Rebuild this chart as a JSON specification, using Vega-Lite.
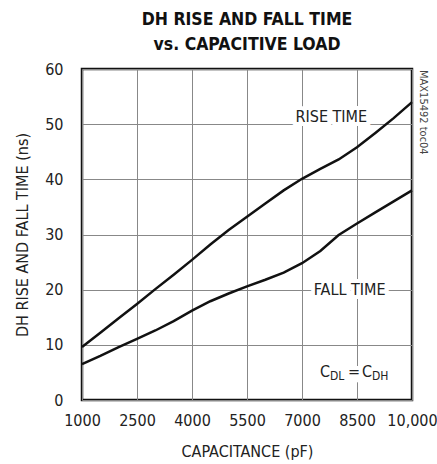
{
  "$schema": "https://vega.github.io/schema/vega-lite/v6.json",
  "autosize": "none",
  "width": 330,
  "height": 331,
  "padding": {"left": 82, "top": 69, "right": 25, "bottom": 64},
  "background": "white",
  "config": {
    "font": "DejaVu Sans Condensed",
    "view": {"stroke": "#111", "strokeWidth": 2.5},
    "axis": {
      "domain": false,
      "ticks": false,
      "grid": true,
      "gridColor": "#888",
      "gridWidth": 1,
      "gridOpacity": 1,
      "labelOverlap": false,
      "labelFlush": false,
      "labelBound": false,
      "labelFont": "DejaVu Sans Condensed",
      "labelFontSize": 16,
      "labelColor": "#222",
      "titleFont": "DejaVu Sans Condensed",
      "titleFontSize": 16,
      "titleFontWeight": "normal",
      "titleColor": "#222"
    }
  },
  "title": {
    "text": ["DH RISE AND FALL TIME", "vs. CAPACITIVE LOAD"],
    "font": "DejaVu Sans Condensed",
    "fontSize": 17.5,
    "fontWeight": "bold",
    "color": "#111",
    "lineHeight": 25,
    "offset": 8,
    "anchor": "middle"
  },
  "data": {
    "values": [
      {"cap": 1000, "t": 9.6, "s": "rise"},
      {"cap": 1500, "t": 12.2, "s": "rise"},
      {"cap": 2000, "t": 14.8, "s": "rise"},
      {"cap": 2500, "t": 17.4, "s": "rise"},
      {"cap": 3000, "t": 20.1, "s": "rise"},
      {"cap": 3500, "t": 22.7, "s": "rise"},
      {"cap": 4000, "t": 25.4, "s": "rise"},
      {"cap": 4500, "t": 28.2, "s": "rise"},
      {"cap": 5000, "t": 30.8, "s": "rise"},
      {"cap": 5500, "t": 33.2, "s": "rise"},
      {"cap": 6000, "t": 35.6, "s": "rise"},
      {"cap": 6500, "t": 38.0, "s": "rise"},
      {"cap": 7000, "t": 40.1, "s": "rise"},
      {"cap": 7500, "t": 41.9, "s": "rise"},
      {"cap": 8000, "t": 43.6, "s": "rise"},
      {"cap": 8500, "t": 45.8, "s": "rise"},
      {"cap": 9000, "t": 48.4, "s": "rise"},
      {"cap": 9500, "t": 51.1, "s": "rise"},
      {"cap": 10000, "t": 54.0, "s": "rise"},
      {"cap": 1000, "t": 6.5, "s": "fall"},
      {"cap": 1500, "t": 8.0, "s": "fall"},
      {"cap": 2000, "t": 9.6, "s": "fall"},
      {"cap": 2500, "t": 11.1, "s": "fall"},
      {"cap": 3000, "t": 12.6, "s": "fall"},
      {"cap": 3500, "t": 14.3, "s": "fall"},
      {"cap": 4000, "t": 16.2, "s": "fall"},
      {"cap": 4500, "t": 17.9, "s": "fall"},
      {"cap": 5000, "t": 19.3, "s": "fall"},
      {"cap": 5500, "t": 20.6, "s": "fall"},
      {"cap": 6000, "t": 21.8, "s": "fall"},
      {"cap": 6500, "t": 23.1, "s": "fall"},
      {"cap": 7000, "t": 24.8, "s": "fall"},
      {"cap": 7500, "t": 27.0, "s": "fall"},
      {"cap": 8000, "t": 29.9, "s": "fall"},
      {"cap": 8500, "t": 32.0, "s": "fall"},
      {"cap": 9000, "t": 34.0, "s": "fall"},
      {"cap": 9500, "t": 36.0, "s": "fall"},
      {"cap": 10000, "t": 38.0, "s": "fall"}
    ]
  },
  "encoding": {
    "x": {
      "field": "cap", "type": "quantitative",
      "scale": {"domain": [1000, 10000], "nice": false, "zero": false},
      "axis": {
        "values": [1000, 2500, 4000, 5500, 7000, 8500, 10000],
        "labelExpr": "datum.value == 10000 ? '10,000' : '' + datum.value",
        "labelPadding": 12,
        "title": "CAPACITANCE (pF)",
        "titlePadding": 15
      }
    },
    "y": {
      "field": "t", "type": "quantitative",
      "scale": {"domain": [0, 60], "nice": false},
      "axis": {
        "values": [0, 10, 20, 30, 40, 50, 60],
        "labelPadding": 19,
        "title": "DH RISE AND FALL TIME (ns)",
        "titlePadding": 14
      }
    }
  },
  "layer": [
    {
      "mark": {"type": "line", "color": "#111", "strokeWidth": 2.5},
      "encoding": {"detail": {"field": "s"}}
    },
    {
      "data": {"values": [{"label": "RISE TIME", "cap": 7800, "t": 50}, {"label": "FALL TIME", "cap": 8300, "t": 20}]},
      "layer": [
        {
          "transform": [{"filter": "datum.label == 'RISE TIME'"}],
          "mark": {"type": "text", "fontSize": 16, "stroke": "white", "strokeWidth": 8, "fill": "white", "baseline": "alphabetic", "dy": -2},
          "encoding": {"text": {"field": "label"}}
        },
        {
          "transform": [{"filter": "datum.label == 'FALL TIME'"}],
          "mark": {"type": "text", "fontSize": 16, "stroke": "white", "strokeWidth": 8, "fill": "white", "baseline": "middle"},
          "encoding": {"text": {"field": "label"}}
        },
        {
          "transform": [{"filter": "datum.label == 'RISE TIME'"}],
          "mark": {"type": "text", "fontSize": 16, "color": "#222", "baseline": "alphabetic", "dy": -2},
          "encoding": {"text": {"field": "label"}}
        },
        {
          "transform": [{"filter": "datum.label == 'FALL TIME'"}],
          "mark": {"type": "text", "fontSize": 16, "color": "#222", "baseline": "middle"},
          "encoding": {"text": {"field": "label"}}
        }
      ]
    },
    {
      "data": {"values": [{"cap": 8500, "t": 5, "c": "C", "d1": "DL", "eq": "=", "d2": "DH", "all": "CDL = CDH"}]},
      "layer": [
        {
          "mark": {"type": "text", "fontSize": 16, "stroke": "white", "strokeWidth": 12, "fill": "white", "baseline": "middle", "align": "center", "dx": -2, "dy": 2},
          "encoding": {"text": {"field": "all"}}
        },
        {
          "mark": {"type": "text", "fontSize": 16, "color": "#222", "baseline": "middle", "align": "right", "dx": -27},
          "encoding": {"text": {"field": "c"}}
        },
        {
          "mark": {"type": "text", "fontSize": 12, "color": "#222", "baseline": "middle", "align": "left", "dx": -27, "dy": 4},
          "encoding": {"text": {"field": "d1"}}
        },
        {
          "mark": {"type": "text", "fontSize": 16, "color": "#222", "baseline": "middle", "align": "center", "dx": -3},
          "encoding": {"text": {"field": "eq"}}
        },
        {
          "mark": {"type": "text", "fontSize": 16, "color": "#222", "baseline": "middle", "align": "left", "dx": 5},
          "encoding": {"text": {"field": "c"}}
        },
        {
          "mark": {"type": "text", "fontSize": 12, "color": "#222", "baseline": "middle", "align": "left", "dx": 15, "dy": 4},
          "encoding": {"text": {"field": "d2"}}
        }
      ]
    },
    {
      "data": {"values": [{"cap": 10000, "t": 60, "label": "MAX15492 toc04"}]},
      "mark": {"type": "text", "fontSize": 11, "color": "#444", "angle": 90, "align": "left", "baseline": "middle", "dx": 1, "dy": -11},
      "encoding": {"text": {"field": "label"}}
    }
  ]
}
